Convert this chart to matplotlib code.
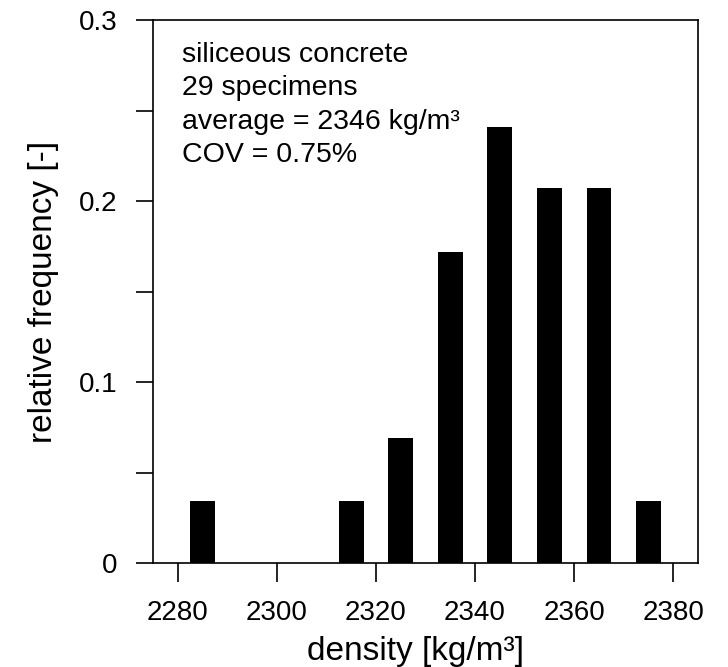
import matplotlib
matplotlib.use('Agg')
import matplotlib.pyplot as plt
from matplotlib.ticker import FixedLocator, FixedFormatter

plt.rcParams['font.family'] = ['Liberation Sans', 'DejaVu Sans']

# bin centres [kg/m3] and relative frequency
density = [2285, 2315, 2325, 2335, 2345, 2355, 2365, 2375]
rel_freq = [0.0345, 0.0345, 0.069, 0.172, 0.241, 0.207, 0.207, 0.0345]

xticks = [2280, 2300, 2320, 2340, 2360, 2380]
yticks = [0, 0.1, 0.2, 0.3]
ytick_labels = ['0', '0.1', '0.2', '0.3']
info = ['siliceous concrete', '29 specimens',
        'average = 2346 kg/m³', 'COV = 0.75%']

fig = plt.figure(figsize=(7.28, 6.67), dpi=100)
ax = fig.add_axes([153 / 728, 104 / 667, 545 / 728, 543 / 667])

ax.bar(density, rel_freq, width=5, color='black', edgecolor='none')

ax.set_xlim(2275, 2385)
ax.set_ylim(0, 0.3)
ax.xaxis.set_major_locator(FixedLocator(xticks))
ax.yaxis.set_major_locator(FixedLocator(yticks))
ax.yaxis.set_major_formatter(FixedFormatter(ytick_labels))
ax.yaxis.set_minor_locator(FixedLocator([0.05, 0.15, 0.25]))

ax.tick_params(axis='both', which='both', direction='out',
               width=1.2, labelsize=20)
ax.tick_params(axis='x', length=13.5, pad=13)
ax.tick_params(axis='y', which='both', length=12.5, pad=13)
for s in ax.spines.values():
    s.set_linewidth(1.2)

ax.set_xlabel('density [kg/m³]', fontsize=24, va='baseline')
ax.xaxis.set_label_coords(0.481, -0.1786)
ax.set_ylabel('relative frequency [-]', fontsize=24)
ax.yaxis.set_label_coords(-0.172, 0.499)

# annotation lines, one baseline each
ys = [0.9232, 0.8619, 0.7993, 0.7385]
for line, y in zip(info, ys):
    ax.text(0.053, y, line, transform=ax.transAxes, fontsize=20.5,
            va='baseline', ha='left')

fig.savefig('out.png', dpi=100)
